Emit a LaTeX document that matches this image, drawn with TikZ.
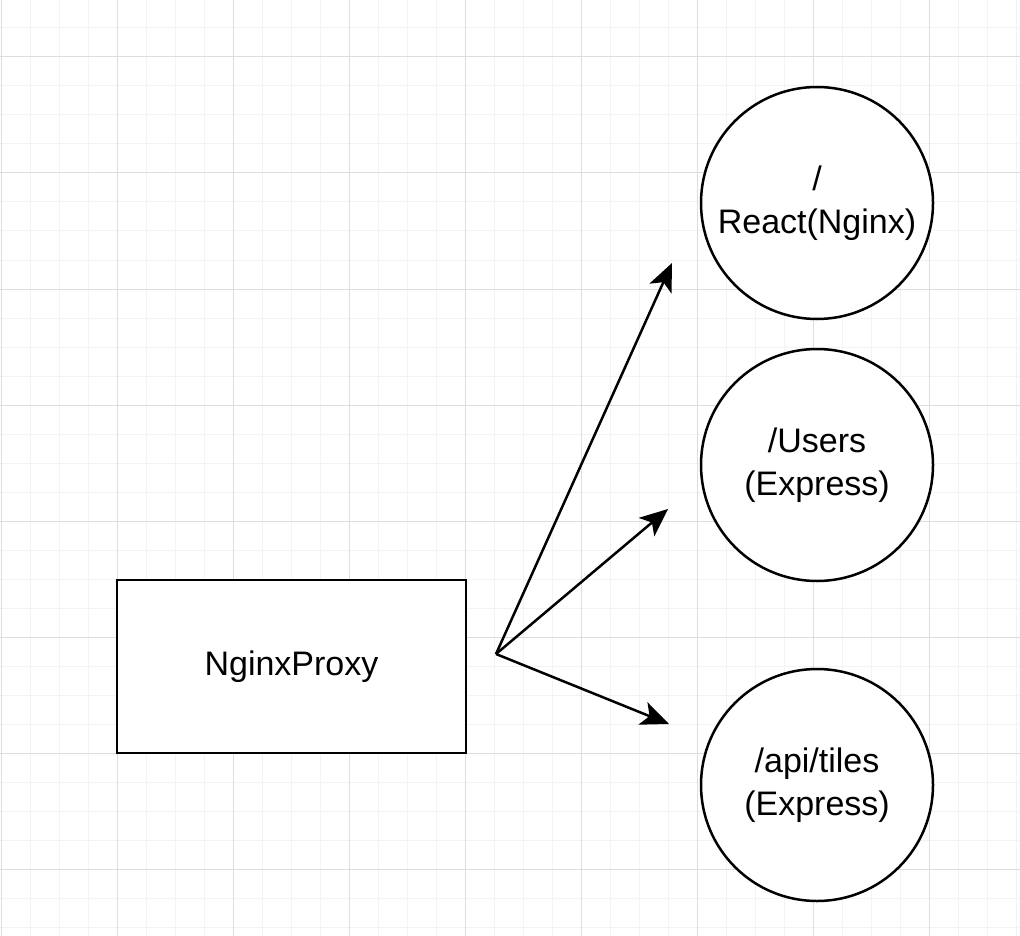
\documentclass[tikz,border=0pt]{standalone}
\usepackage{fontspec}
\setmainfont{Liberation Sans}
\usetikzlibrary{arrows.meta}
\definecolor{gridminor}{HTML}{F3F3F3}
\definecolor{gridmajor}{HTML}{DDDDDD}

\begin{document}
\begin{tikzpicture}[x=1pt,y=-1pt,
    font=\fontsize{34}{43}\selectfont,
    proxybox/.style={draw,line width=2.5pt,minimum width=349pt,minimum height=173pt,inner sep=0pt},
    service/.style={draw,circle,line width=2.5pt,minimum size=232pt,inner sep=0pt,align=center},
    route/.style={line width=2.5pt,-{Stealth[length=28pt,width=24pt,inset=7pt]}}
]
\useasboundingbox (0,0) rectangle (1020,936);
% Background grid
\foreach \gx in {30,59,...,1020}
    \draw[gridminor,line width=1pt] (\gx,0) -- (\gx,936);
\foreach \gy in {28,57,...,936}
    \draw[gridminor,line width=1pt] (0,\gy) -- (1020,\gy);
\foreach \gx in {1,117,...,1020}
    \draw[gridmajor,line width=1pt] (\gx,0) -- (\gx,936);
\foreach \gy in {57,173,...,936}
    \draw[gridmajor,line width=1pt] (0,\gy) -- (1020,\gy);

% Proxy and services
\node[proxybox,fill=white] (proxy) at (291.5,666.5) {NginxProxy};
\node[service,fill=white] (react) at (817,203) {/\\React(Nginx)};
\node[service,fill=white] (users) at (817,465) {/Users\\(Express)};
\node[service,fill=white] (tiles) at (817,785) {/api/tiles\\(Express)};

% Routes
\coordinate (fork) at (496,654);
\coordinate (toreact) at (672,263);
\coordinate (tousers) at (668,509);
\coordinate (totiles) at (669,724);
\draw[route] (fork) -- (toreact);
\draw[route] (fork) -- (tousers);
\draw[route] (fork) -- (totiles);
\end{tikzpicture}
\end{document}
